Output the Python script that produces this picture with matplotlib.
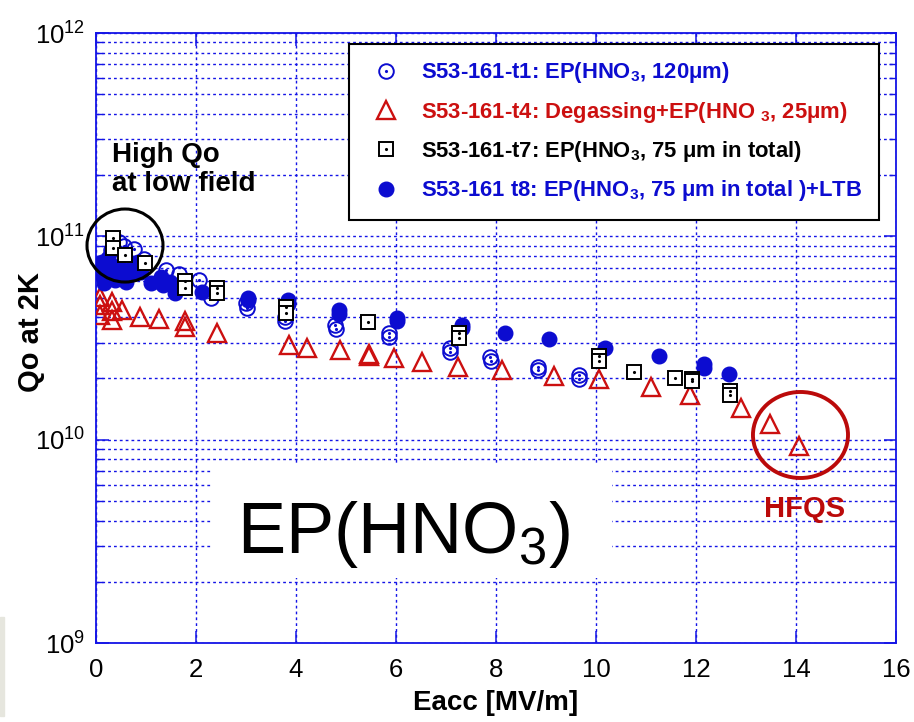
import matplotlib
matplotlib.use('Agg')
import matplotlib.pyplot as plt
from matplotlib.patches import Ellipse, Rectangle
from matplotlib.lines import Line2D
from matplotlib.legend_handler import HandlerTuple

plt.rcParams['font.family'] = 'Liberation Sans'
plt.rcParams['mathtext.default'] = 'regular'

# S53-161-t1: EP(HNO3, 120um)
E_t1 = [0.30, 0.45, 0.55, 0.75, 0.95, 1.40, 1.65, 2.05, 2.30, 3.00, 3.02, 3.78, 3.78,
        4.78, 4.80, 5.85, 5.86, 7.07, 7.08, 7.88, 7.89, 8.83, 8.84, 9.65, 9.66]
Q_t1 = [8.6e10, 9.4e10, 9.0e10, 8.7e10, 7.7e10, 6.8e10, 6.5e10, 6.1e10, 5.0e10, 4.7e10,
        4.45e10, 4.03e10, 3.85e10, 3.66e10, 3.50e10, 3.34e10, 3.20e10, 2.82e10, 2.70e10,
        2.54e10, 2.45e10, 2.29e10, 2.20e10, 2.08e10, 1.98e10]

# S53-161-t4: Degassing+EP(HNO3, 25um)
E_t4 = [0.08, 0.08, 0.08, 0.31, 0.31, 0.31, 0.51, 0.88, 1.25, 1.78, 1.78, 2.41, 3.85,
        4.21, 4.88, 5.45, 5.46, 5.96, 6.51, 7.23, 8.11, 9.15, 10.05, 11.09, 11.88, 12.90,
        13.48, 14.06]
Q_t4 = [5.05e10, 4.60e10, 4.11e10, 4.77e10, 4.27e10, 3.88e10, 4.35e10, 4.03e10, 3.91e10,
        3.85e10, 3.57e10, 3.34e10, 2.92e10, 2.82e10, 2.76e10, 2.65e10, 2.57e10, 2.51e10,
        2.42e10, 2.29e10, 2.20e10, 2.06e10, 1.98e10, 1.81e10, 1.66e10, 1.43e10, 1.20e10,
        9.3e9]

# S53-161-t7: EP(HNO3, 75um in total)
E_t7 = [0.33, 0.33, 0.58, 0.98, 1.78, 1.78, 2.41, 2.41, 3.80, 3.80, 5.43, 7.26, 7.26,
        10.05, 10.05, 10.76, 11.58, 11.91, 11.92, 12.68, 12.68]
Q_t7 = [9.8e10, 8.73e10, 8.09e10, 7.38e10, 6.04e10, 5.57e10, 5.57e10, 5.27e10, 4.50e10,
        4.20e10, 3.80e10, 3.35e10, 3.16e10, 2.58e10, 2.44e10, 2.14e10, 2.02e10, 1.98e10,
        1.94e10, 1.74e10, 1.66e10]

# S53-161 t8: EP(HNO3, 75um in total)+LTB
E_t8 = [0.12, 0.12, 0.16, 0.24, 0.28, 0.38, 0.46, 0.52, 0.60, 0.66, 0.74, 0.84, 0.90,
        1.10, 1.30, 1.34, 1.48, 1.58, 2.11, 3.04, 3.04, 3.84, 3.84, 4.86, 4.86, 6.01,
        6.01, 7.31, 7.31, 8.18, 9.05, 10.18, 11.25, 12.16, 12.16, 12.65]
Q_t8 = [7.48e10, 6.46e10, 5.91e10, 7.83e10, 6.84e10, 6.11e10, 7.14e10, 6.38e10, 5.97e10,
        6.84e10, 6.61e10, 7.48e10, 6.68e10, 5.91e10, 6.31e10, 5.77e10, 5.97e10, 5.27e10,
        5.35e10, 4.98e10, 4.85e10, 4.85e10, 4.65e10, 4.35e10, 4.15e10, 3.98e10, 3.85e10,
        3.67e10, 3.56e10, 3.36e10, 3.13e10, 2.82e10, 2.58e10, 2.36e10, 2.26e10, 2.10e10]

labels = ['S53-161-t1: EP(HNO$_3$, 120μm)',
          'S53-161-t4: Degassing+EP(HNO $_3$, 25μm)',
          'S53-161-t7: EP(HNO$_3$, 75 μm in total)',
          'S53-161 t8: EP(HNO$_3$, 75 μm in total )+LTB']

BLUE = '#0c0cd0'
RED = '#cc1010'
DARKRED = '#bb0a0a'
AXBLUE = '#1414e6'

fig = plt.figure(figsize=(9.14, 7.22), dpi=100)
# thin grey strip at the bottom-left edge
fig.patches.append(Rectangle((0, 6 / 722), 4 / 914, 99 / 722, transform=fig.transFigure,
                             color='#e6e6de', zorder=0))

ax = fig.add_axes([96 / 914, 79 / 722, 800 / 914, 610 / 722])
ax.set_yscale('log')
ax.set_xlim(0, 16)
ax.set_ylim(1e9, 1e12)
ax.set_xticks(range(0, 17, 2))

grid_kw = dict(color=AXBLUE, linestyle=(0, (2.0, 2.2)), linewidth=1.0)
ax.grid(True, which='major', axis='x', **grid_kw)
ax.grid(True, which='both', axis='y', **grid_kw)
ax.set_axisbelow(True)

for s in ax.spines.values():
    s.set_color(AXBLUE)
    s.set_linewidth(1.3)
ax.tick_params(which='both', direction='in', top=True, right=True, color=AXBLUE,
               labelcolor='black', labelsize=18.5)
ax.tick_params(which='major', length=9, width=1.1)
ax.tick_params(which='minor', length=5, width=1.0)
ax.tick_params(axis='x', pad=11)
ax.tick_params(axis='y', pad=8)

# data
ax.plot(E_t1, Q_t1, 'o', ms=10.5, mfc='none', mec=BLUE, mew=1.4, zorder=3)
ax.plot(E_t1, Q_t1, '.', ms=2.5, color=BLUE, zorder=3)
ax.plot(E_t4, Q_t4, '^', ms=12.5, mfc='none', mec=RED, mew=1.7, zorder=3)
ax.plot(E_t8, Q_t8, 'o', ms=10.5, color=BLUE, mec=BLUE, zorder=4)
ax.plot(E_t7, Q_t7, 's', ms=10.5, mfc='white', mec='black', mew=1.4, zorder=5)
ax.plot(E_t7, Q_t7, '.', ms=2.5, color='black', zorder=5)

h1 = (Line2D([], [], marker='o', ls='none', ms=10.5, mfc='none', mec=BLUE, mew=1.4),
      Line2D([], [], marker='.', ls='none', ms=2.5, color=BLUE))
h4 = Line2D([], [], marker='^', ls='none', ms=12.5, mfc='none', mec=RED, mew=1.7)
h7 = (Line2D([], [], marker='s', ls='none', ms=10.5, mfc='white', mec='black', mew=1.4),
      Line2D([], [], marker='.', ls='none', ms=2.5, color='black'))
h8 = Line2D([], [], marker='o', ls='none', ms=10.5, color=BLUE)
leg = ax.legend([h1, h4, h7, h8], labels, handler_map={tuple: HandlerTuple(ndivide=1)},
                loc='upper left', bbox_to_anchor=((349 - 96) / 800, (643 - 44) / 610),
                prop=dict(weight='bold', size=15.8),
                labelcolor=[BLUE, RED, 'black', BLUE], frameon=True, fancybox=False,
                edgecolor='black', framealpha=1, borderpad=0.75, labelspacing=0.65,
                handlelength=1.9, handletextpad=0.65, borderaxespad=0)
leg.get_frame().set_linewidth(1.5)
leg.set_zorder(6)

# annotations
ax.add_patch(Ellipse((0.03625, 0.6516), 0.095, 0.1197, transform=ax.transAxes,
                     fill=False, ec='black', lw=2.2, clip_on=False, zorder=6))
ax.text(0.0196, 0.822, 'High Qo\nat low field', transform=ax.transAxes, fontsize=20,
        fontweight='bold', ha='left', va='top', linespacing=1.15, zorder=6)

ax.add_patch(Ellipse((0.8806, 0.341), 0.1188, 0.141, transform=ax.transAxes,
                     fill=False, ec=DARKRED, lw=2.8, zorder=6))
ax.text(0.886, 0.2066, 'HFQS', transform=ax.transAxes, fontsize=21, fontweight='bold',
        color=DARKRED, ha='center', va='baseline', zorder=6)

ax.add_patch(Rectangle((0.146, 0.1066), 0.499, 0.1885, transform=ax.transAxes,
                       facecolor='white', edgecolor='none', zorder=1))
ax.text(0.385, 0.1475, 'EP(HNO$_3$)', transform=ax.transAxes, fontsize=52,
        ha='center', va='baseline', zorder=6)

ax.set_xlabel('Eacc [MV/m]', fontsize=20, fontweight='bold')
ax.xaxis.set_label_coords(0.5, -0.077)
ax.set_ylabel('Qo at 2K', fontsize=21, fontweight='bold')
ax.yaxis.set_label_coords(-0.064, 0.51)

fig.savefig('out.png', dpi=100)
